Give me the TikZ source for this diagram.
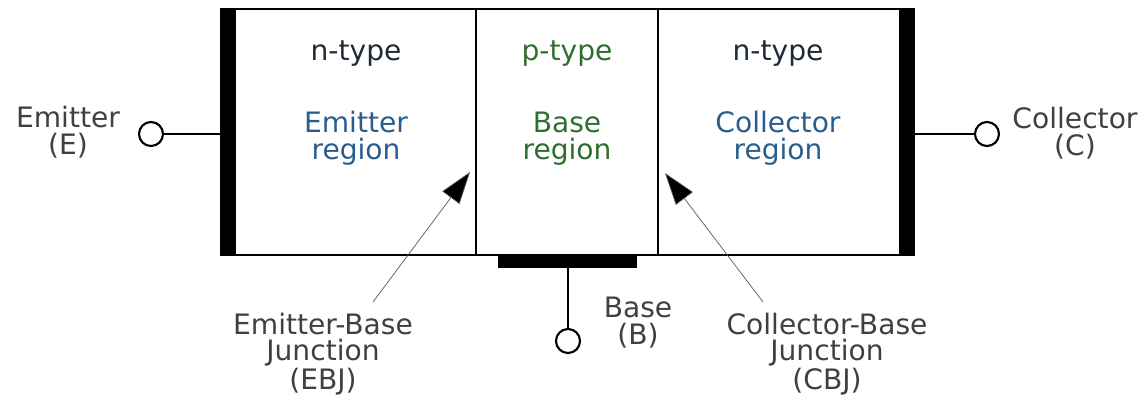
\documentclass[tikz,border=0pt]{standalone}
\usepackage{fontspec}
\setmainfont{DejaVu Sans}
\usetikzlibrary{arrows.meta}
\definecolor{ntype}{HTML}{1E2A38}
\definecolor{nreg}{HTML}{2B5D8C}
\definecolor{preg}{HTML}{2F6E2F}
\tikzset{
  lbl/.style={align=center, font=\fontsize{20}{18.5}\selectfont, text=black!75, inner sep=0pt, anchor=base},
  term/.style={circle, draw, line width=1.5pt, fill=white, minimum size=0.6cm, inner sep=0pt},
  lead/.style={line width=1.5pt},
  junc/.style={line width=0.5pt, draw=black!65, -{Triangle[length=0.8cm,width=0.53cm,fill=black]}},
}

\begin{document}
\begin{tikzpicture}[x=0.025cm, y=-0.025cm]
  \useasboundingbox (0,0) rectangle (1143,401);
  % semiconductor block
  \draw[line width=1.5pt] (228,9) rectangle (907,255);
  \draw[line width=2pt] (476,9) -- (476,255);
  \draw[line width=2pt] (658,9) -- (658,255);
  % metal contacts
  \fill (220,8) rectangle (236,256);
  \fill (899,8) rectangle (915,256);
  \fill (498,255) rectangle (637,268);
  \coordinate (econ) at (220,134);
  \coordinate (ccon) at (915,134);
  \coordinate (bcon) at (568,268);
  % terminals
  \node[term] (E) at (151,134) {};
  \node[term] (C) at (987,134) {};
  \node[term] (B) at (568,341) {};
  \draw[lead] (econ) -- (E);
  \draw[lead] (ccon) -- (C);
  \draw[lead] (bcon) -- (B);
  % base of last line
  \node[lbl] (elbl) at (68,154) {Emitter\\(E)};
  \node[lbl] (clbl) at (1075,155) {Collector\\(C)};
  \node[lbl] (blbl) at (638,344) {Base\\(B)};
  % regions
  \node[lbl, text=ntype] (etype) at (356,60) {n-type};
  \node[lbl, text=preg] (btype) at (567,60) {p-type};
  \node[lbl, text=ntype] (ctype) at (778,60) {n-type};
  \node[lbl, text=nreg] (ereg) at (356,159) {Emitter\\region};
  \node[lbl, text=preg] (breg) at (567,159) {Base\\region};
  \node[lbl, text=nreg] (creg) at (778,159) {Collector\\region};
  % junctions
  \node[lbl] (ebj) at (323,389) {Emitter-Base\\Junction\\(EBJ)};
  \node[lbl] (cbj) at (827,389) {Collector-Base\\Junction\\(CBJ)};
  \coordinate (ebtail) at (373,302);
  \coordinate (ebtip) at (470,172);
  \coordinate (cbtail) at (763,302);
  \coordinate (cbtip) at (665,173);
  \draw[junc] (ebtail) -- (ebtip);
  \draw[junc] (cbtail) -- (cbtip);
\end{tikzpicture}
\end{document}
